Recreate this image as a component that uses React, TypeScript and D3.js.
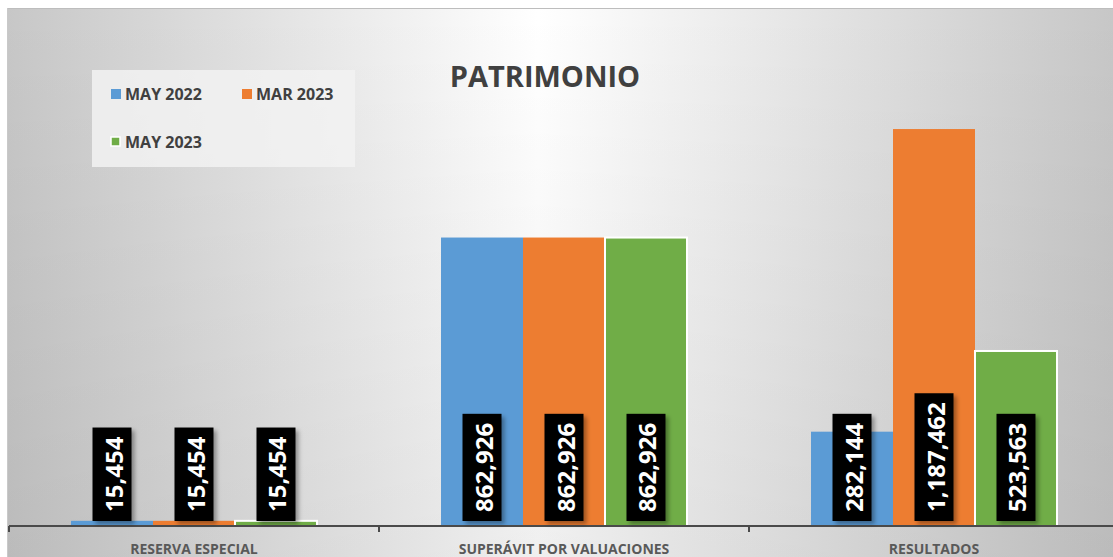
import React, { useEffect, useRef } from "react";
import * as d3 from "d3";

const categories = ["RESERVA ESPECIAL", "SUPERÁVIT POR VALUACIONES", "RESULTADOS"];
const seriesNames = ["MAY 2022", "MAR 2023", "MAY 2023"];
const may2022 = [15454, 862926, 282144];
const mar2023 = [15454, 862926, 1187462];
const may2023 = [15454, 862926, 523563];
const seriesColors = ["#5B9BD5", "#ED7D31", "#70AD47"];
const title = "PATRIMONIO";

const W = 1113;
const H = 557;

export default function App() {
  const ref = useRef<SVGSVGElement>(null);

  useEffect(() => {
    document.body.style.margin = "0";
    const svg = d3.select(ref.current);
    svg.selectAll("*").remove();

    const defs = svg.append("defs");
    const g1 = defs.append("linearGradient").attr("id", "bgH").attr("x1", "0").attr("x2", "1").attr("y1", "0").attr("y2", "0");
    g1.append("stop").attr("offset", "0").attr("stop-color", "#c7c7c7");
    g1.append("stop").attr("offset", "0.48").attr("stop-color", "#ffffff");
    g1.append("stop").attr("offset", "1").attr("stop-color", "#c7c7c7");
    const g2 = defs.append("linearGradient").attr("id", "bgV").attr("x1", "0").attr("x2", "0").attr("y1", "0").attr("y2", "1");
    g2.append("stop").attr("offset", "0").attr("stop-color", "#000").attr("stop-opacity", 0);
    g2.append("stop").attr("offset", "1").attr("stop-color", "#000").attr("stop-opacity", 0.06);
    const f = defs.append("filter").attr("id", "shadow").attr("x", "-30%").attr("y", "-30%").attr("width", "160%").attr("height", "160%");
    f.append("feDropShadow").attr("dx", 3).attr("dy", 3).attr("stdDeviation", 2).attr("flood-color", "#000").attr("flood-opacity", 0.35);

    // background
    svg.append("rect").attr("x", 7).attr("y", 8).attr("width", W - 7).attr("height", H - 8).attr("fill", "url(#bgH)");
    svg.append("rect").attr("x", 7).attr("y", 8).attr("width", W - 7).attr("height", H - 8).attr("fill", "url(#bgV)");
    svg.append("line").attr("x1", 7).attr("x2", W).attr("y1", 8.5).attr("y2", 8.5).attr("stroke", "#bdbdbd").attr("stroke-width", 1);
    svg.append("line").attr("x1", 7.5).attr("x2", 7.5).attr("y1", 8).attr("y2", H).attr("stroke", "#c9c9c9").attr("stroke-width", 1);

    const x0 = d3.scaleBand<string>().domain(categories).range([9, 1119]).padding(0);
    const bw = x0.bandwidth();
    const x1 = d3.scaleBand<string>().domain(seriesNames).range([bw * 0.1676, bw * 0.8324]).padding(0);
    const y = d3.scaleLinear().domain([0, 1400000]).range([526, 58]);

    const series = [may2022, mar2023, may2023];
    const data = categories.flatMap((c, ci) =>
      seriesNames.map((s, si) => ({ c, s, si, v: series[si][ci] }))
    );

    // bars
    svg.append("g").selectAll("rect").data(data).join("rect")
      .attr("x", (d) => (x0(d.c) as number) + (x1(d.s) as number))
      .attr("y", (d) => y(d.v))
      .attr("width", x1.bandwidth())
      .attr("height", (d) => y(0) - y(d.v))
      .attr("fill", (d) => seriesColors[d.si])
      .attr("stroke", (d) => (d.si === 2 ? "#ffffff" : "none"))
      .attr("stroke-width", 2);

    // axis
    const axisG = svg.append("g").attr("transform", `translate(0,${y(0)})`);
    axisG.append("line").attr("x1", 9).attr("x2", W).attr("y1", 0).attr("y2", 0).attr("stroke", "#4a4a4a").attr("stroke-width", 2);
    const ticks = categories.map((c) => x0(c) as number);
    axisG.selectAll("line.tick").data(ticks).join("line").attr("class", "tick")
      .attr("x1", (d) => d).attr("x2", (d) => d).attr("y1", 0).attr("y2", 6)
      .attr("stroke", "#4a4a4a").attr("stroke-width", 2);
    axisG.selectAll("text").data(categories).join("text")
      .attr("x", (d) => (x0(d) as number) + bw / 2)
      .attr("y", 28)
      .attr("text-anchor", "middle")
      .attr("font-family", "'Open Sans', sans-serif")
      .attr("font-weight", 700)
      .attr("font-size", 14)
      .attr("fill", "#595959")
      .text((d) => d);

    // data labels
    const fmt = d3.format(",");
    const lg = svg.append("g");
    data.forEach((d) => {
      const cx = (x0(d.c) as number) + (x1(d.s) as number) + x1.bandwidth() / 2;
      const g = lg.append("g");
      const rect = g.append("rect").attr("fill", "#000").attr("filter", "url(#shadow)");
      const bottom = y(0) - 5;
      const pad = 9;
      const t = g.append("text")
        .attr("transform", `translate(${cx + 1},${bottom - pad}) rotate(-90)`)
        .attr("text-anchor", "start")
        .attr("dominant-baseline", "central")
        .attr("font-family", "'Open Sans', sans-serif")
        .attr("font-weight", 700)
        .attr("font-size", 24)
        .attr("fill", "#ffffff")
        .text(fmt(d.v));
      const len = (t.node() as SVGTextElement).getComputedTextLength();
      const h = len + pad * 2;
      rect.attr("x", cx - 19.5).attr("width", 39).attr("y", bottom - h).attr("height", h);
    });

    // title
    svg.append("text").attr("x", 545).attr("y", 87).attr("text-anchor", "middle")
      .attr("font-family", "'Open Sans', sans-serif").attr("font-weight", 700)
      .attr("font-size", 29).attr("fill", "#404040").text(title);

    // legend
    const leg = svg.append("g");
    leg.append("rect").attr("x", 92).attr("y", 70).attr("width", 263).attr("height", 97)
      .attr("fill", "#f2f2f2").attr("fill-opacity", 0.85);
    const legPos = [
      { x: 111, y: 100 },
      { x: 242, y: 100 },
      { x: 111, y: 148 },
    ];
    seriesNames.forEach((s, i) => {
      const p = legPos[i];
      leg.append("rect").attr("x", p.x).attr("y", p.y - 11).attr("width", i === 2 ? 9 : 10).attr("height", i === 2 ? 9 : 10)
        .attr("fill", seriesColors[i])
        .attr("stroke", i === 2 ? "#ffffff" : "none").attr("stroke-width", 1.5);
      leg.append("text").attr("x", p.x + 14).attr("y", p.y)
        .attr("font-family", "'Open Sans', sans-serif").attr("font-weight", 700)
        .attr("font-size", 16).attr("fill", "#404040").text(s);
    });
  }, []);

  return <svg ref={ref} width={W} height={H} style={{ display: "block" }} />;
}
